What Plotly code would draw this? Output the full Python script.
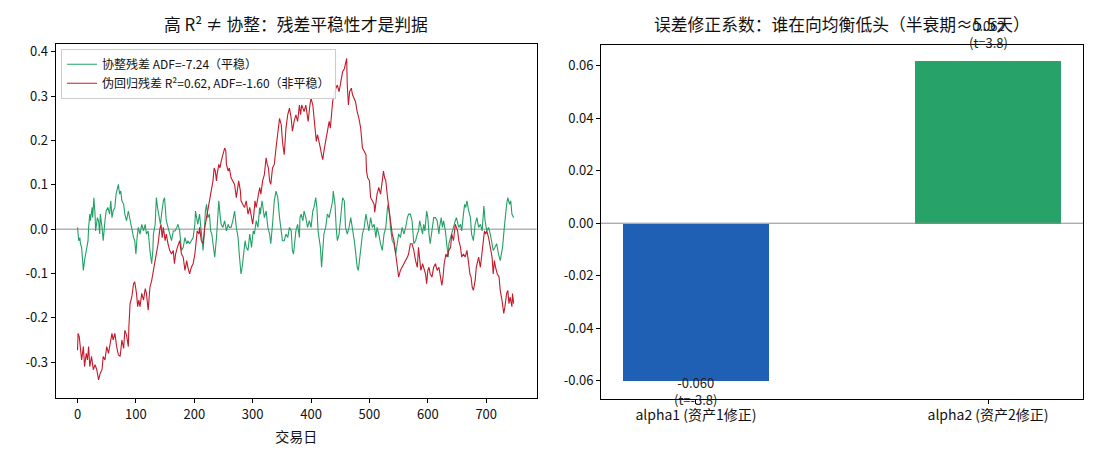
import plotly.graph_objects as go

# ---------------- data: left panel (residual series) ----------------
red_days = [
    0, 1, 3, 5, 7, 10, 12, 15, 17, 19, 21, 24, 27, 30, 33, 36, 39, 42, 44, 47,
    50, 53, 56, 59, 61, 64, 67, 70, 73, 76, 79, 81, 84, 87, 88, 90, 93, 96, 98, 101,
    103, 105, 107, 110, 113, 116, 118, 121, 124, 127, 130, 133, 135, 138, 141, 143, 145, 147, 150, 152,
    155, 158, 161, 164, 166, 168, 171, 174,
    175, 178, 181, 184, 187, 189, 192, 195, 198, 201,
    204, 205, 208, 209, 212, 215, 218, 221, 223, 226,
    229, 232, 234, 236, 238, 239, 242, 244, 246, 249,
    252, 254, 255, 258, 260, 263, 266, 269, 272, 275,
    276, 279, 280, 283, 286, 289, 292, 295, 297, 300,
    302, 304, 306, 309, 312, 314, 317, 320, 323, 325,
    327, 329, 331, 334, 337, 340, 343, 346, 349, 351,
    354, 357, 360, 363, 366, 368, 371, 374, 377, 380,
    382, 384, 386, 388, 391, 393, 395, 398, 400, 403,
    405, 407, 409, 411, 414, 416, 418, 420, 422, 425,
    428, 431, 433, 435, 437, 440, 442, 445, 448, 451,
    454, 457, 459, 461, 462, 464, 466, 469, 471, 474,
    476, 479, 482, 485, 488, 491, 494, 495, 497, 500,
    502, 505, 508, 509, 511, 513, 516, 519, 522, 524,
    526, 528, 531, 533, 536, 539, 542, 545, 548, 550,
    553, 556, 559, 562, 565, 567, 570, 573, 576, 579,
    582, 584,
    586, 588, 591, 593, 596, 598, 600, 602, 604, 607,
    610, 613, 616, 619, 621, 624, 626, 628, 631, 633,
    636, 639, 641, 644, 647, 649, 651, 653, 656, 658,
    661, 664, 667, 670, 672, 674, 676, 678, 681, 683,
    685, 687, 690, 693, 695, 697, 699, 701, 704, 707,
    710, 712, 714, 716, 719, 722, 724, 727, 730, 732,
    735, 737, 739, 741, 744, 745, 747,
]
red_vals = [
    -0.273, -0.235, -0.243, -0.273, -0.295, -0.265, -0.310, -0.280, -0.295, -0.265, -0.310, -0.287, -0.317, -0.306, -0.317, -0.340, -0.325, -0.317, -0.287, -0.295,
    -0.265, -0.280, -0.254, -0.235, -0.250, -0.235, -0.265, -0.284, -0.287, -0.250, -0.269, -0.228, -0.239, -0.265, -0.220, -0.168, -0.153, -0.123, -0.119, -0.145,
    -0.175, -0.160, -0.175, -0.145, -0.160, -0.134, -0.145, -0.183, -0.131, -0.116, -0.093, -0.071, -0.056, -0.033, 0.000, 0.011, -0.019, 0.004, -0.026, -0.011,
    -0.033, -0.048, -0.056, -0.048, -0.078, -0.056, -0.041, -0.030,
    -0.026, -0.056, -0.063, -0.093, -0.071, -0.086, -0.101, -0.086, -0.078, -0.056,
    -0.026, -0.004, -0.011, 0.004, -0.026, -0.033, 0.004, 0.026, 0.049, 0.071,
    0.086, 0.109, 0.138, 0.131, 0.109, 0.123, 0.146, 0.138, 0.153, 0.168,
    0.183, 0.176, 0.146, 0.131, 0.138, 0.116, 0.109, 0.101, 0.071, 0.094,
    0.109, 0.086, 0.064, 0.056, 0.049, 0.064, 0.034, 0.049, 0.034, 0.011,
    0.034, 0.064, 0.049, 0.071, 0.094, 0.079, 0.109, 0.123, 0.161, 0.146,
    0.138, 0.109, 0.101, 0.138, 0.146, 0.183, 0.213, 0.250, 0.235, 0.198,
    0.168, 0.228, 0.258, 0.273, 0.250, 0.221, 0.243, 0.258, 0.243, 0.280,
    0.258, 0.280, 0.273, 0.265, 0.280, 0.258, 0.243, 0.280, 0.295, 0.280,
    0.250, 0.221, 0.198, 0.213, 0.198, 0.183, 0.168, 0.157, 0.176, 0.198,
    0.213, 0.243, 0.228, 0.265, 0.288, 0.310, 0.318, 0.325, 0.310, 0.333,
    0.355, 0.362, 0.377, 0.385, 0.325, 0.280, 0.310, 0.318, 0.303, 0.295,
    0.288, 0.265, 0.250, 0.228, 0.183, 0.176, 0.168, 0.131, 0.116, 0.109,
    0.071, 0.064, 0.056, 0.038, 0.056, 0.079, 0.094, 0.079, 0.109, 0.131,
    0.116, 0.109, 0.071, 0.049, 0.011, -0.011, -0.026, -0.056, -0.086, -0.108,
    -0.093, -0.086, -0.078, -0.071, -0.063, -0.056, -0.033, -0.033, -0.048, -0.071,
    -0.086, -0.041,
    -0.071, -0.093, -0.078, -0.086, -0.101, -0.123, -0.093, -0.086, -0.101, -0.108,
    -0.086, -0.078, -0.093, -0.086, -0.101, -0.127, -0.108, -0.078, -0.056, -0.063,
    -0.048, -0.041, -0.011, -0.026, 0.011, 0.004, -0.004, -0.026, -0.041, -0.063,
    -0.056, -0.063, -0.048, -0.078, -0.101, -0.108, -0.131, -0.138, -0.116, -0.086,
    -0.071, -0.063, -0.086, -0.056, -0.033, -0.004, -0.011, -0.004, -0.019, -0.041,
    -0.063, -0.101, -0.071, -0.086, -0.101, -0.108, -0.138, -0.160, -0.190, -0.175,
    -0.145, -0.138, -0.168, -0.153, -0.175, -0.145, -0.168,
]

green_days = [
    0, 1, 2, 4, 5, 7, 10, 12, 14, 16,
    18, 19, 21, 22, 25, 26, 28, 30, 31, 34,
    36, 38, 39, 42, 44, 47, 49, 52, 55, 57,
    59, 61, 64, 66, 68, 70, 72, 74, 76, 79,
    81, 84, 87, 90, 93, 96, 98, 100, 102, 104,
    107, 110, 113, 116, 118, 121, 124, 127, 129, 130,
    133, 135, 137, 139, 142, 144, 147, 149, 150, 152,
    155, 158, 161, 164, 167, 170, 172, 175,
    178, 181, 184, 187, 189, 192, 195, 198, 201, 202,
    204, 206, 209, 211, 213, 215, 217, 219, 221, 223,
    226, 228, 230, 233, 235, 238, 240, 242, 244, 246,
    249, 252, 255, 258, 260, 263, 266, 269, 272, 275,
    277, 280, 282, 284, 287, 289, 292, 295, 296, 298,
    301, 303, 306, 309, 312, 313, 316, 318, 320, 323,
    326, 329, 331, 334, 337, 340, 343, 346, 349, 351,
    354, 357, 360, 363, 366, 368, 370, 372, 374, 377,
    380,
    381, 383, 386, 388, 391, 394, 397, 400, 403, 405,
    408, 410, 412, 414, 416, 418, 420, 422, 425, 428,
    431, 434, 437, 438, 441, 443, 445, 448, 451, 454,
    457, 459, 462, 465, 468, 471, 474, 476, 479, 481,
    483, 485, 488, 491, 494, 496, 499, 502, 505, 508,
    511, 513, 516, 519, 522, 525, 528, 531, 532, 535,
    536, 539, 542, 545, 548, 550, 553, 556, 559, 562,
    565, 567, 570, 573, 576, 579, 582, 584,
    586, 588, 591, 593, 595, 598, 600, 602, 604, 607,
    610, 613, 616, 619, 620, 623, 625, 627, 630, 633,
    635, 636, 639, 641, 644, 647, 649, 651, 653, 656,
    658, 661, 663, 665, 667, 670, 673, 675, 678, 681,
    684, 687, 690, 693, 695, 696, 698, 701, 704, 707,
    710, 712, 715, 718, 721, 724, 727, 728, 731, 733,
    735, 737, 740, 742, 744, 747,
]
green_vals = [
    0.004, -0.007, -0.026, -0.019, -0.033, -0.041, -0.093, -0.071, -0.056, -0.041,
    -0.026, 0.004, 0.034, 0.019, 0.049, 0.026, 0.071, 0.034, -0.004, 0.026,
    0.019, -0.011, 0.034, 0.004, -0.026, 0.019, 0.041, 0.049, 0.034, 0.064,
    0.026, 0.041, 0.049, 0.079, 0.094, 0.101, 0.079, 0.086, 0.064, 0.056,
    0.034, 0.019, 0.041, 0.019, 0.004, -0.019, -0.026, -0.056, -0.019, 0.004,
    -0.011, 0.011, -0.004, 0.011, -0.011, -0.004, -0.048, -0.078, -0.048, -0.011,
    0.011, 0.071, 0.049, 0.034, 0.011, 0.034, 0.064, 0.071, 0.041, 0.019,
    0.004, -0.011, -0.026, -0.004, -0.004, 0.004, 0.011, -0.004,
    -0.048, -0.041, -0.019, -0.033, -0.026, -0.033, -0.026, -0.019, 0.011, 0.041,
    0.026, 0.011, 0.034, 0.011, -0.011, -0.048, -0.011, 0.041, 0.056, 0.026,
    0.034, -0.004, -0.011, -0.041, -0.063, -0.019, 0.019, 0.064, 0.034, 0.011,
    0.004, 0.019, -0.004, 0.011, 0.004, 0.004, 0.019, 0.041, 0.004, -0.019,
    -0.056, -0.101, -0.086, -0.063, -0.026, -0.041, -0.048, -0.011, -0.026, -0.041,
    -0.004, -0.011, 0.019, 0.004, 0.049, 0.034, 0.064, 0.049, 0.026, 0.041,
    0.004, -0.011, -0.033, 0.011, 0.064, 0.086, 0.071, 0.026, -0.011, -0.026,
    -0.026, -0.011, -0.019, 0.004, -0.004, -0.048, -0.056, -0.026, -0.004, 0.011,
    -0.019,
    0.026, 0.034, 0.019, 0.041, 0.026, 0.004, 0.019, 0.004, 0.041, 0.049,
    0.071, 0.049, -0.004, -0.026, -0.041, -0.086, -0.048, -0.011, 0.004, 0.034,
    0.026, 0.049, 0.064, 0.086, 0.056, 0.004, -0.026, -0.011, 0.034, 0.071,
    0.064, 0.004, -0.011, 0.004, 0.026, 0.004, -0.026, -0.048, -0.086, -0.093,
    -0.071, -0.048, -0.011, 0.004, 0.034, 0.019, -0.004, 0.026, 0.004, 0.011,
    -0.019, 0.004, -0.011, -0.033, -0.048, -0.011, 0.004, 0.049, 0.056, 0.026,
    0.004, -0.026, -0.033, -0.056, -0.026, -0.011, -0.019, 0.004, -0.011, 0.004,
    0.026, 0.034, 0.034, 0.019, -0.033, -0.026, -0.011, -0.004,
    0.019, 0.004, -0.011, 0.011, -0.004, 0.041, 0.026, -0.011, -0.033, -0.004,
    0.026, 0.026, 0.019, -0.011, 0.004, 0.026, 0.004, 0.019, -0.004, -0.041,
    -0.063, -0.033, -0.019, -0.004, 0.004, 0.019, 0.026, 0.011, 0.004, 0.011,
    -0.004, 0.034, 0.056, 0.049, 0.064, 0.041, 0.026, -0.011, -0.026, 0.011,
    0.026, 0.004, 0.011, -0.004, 0.034, 0.052, 0.019, -0.004, 0.004, -0.011,
    -0.033, -0.048, -0.041, -0.033, -0.056, -0.071, -0.048, -0.041, 0.004, 0.041,
    0.056, 0.071, 0.056, 0.064, 0.034, 0.026,
]
assert len(red_days) == len(red_vals), (len(red_days), len(red_vals))
assert len(green_days) == len(green_vals), (len(green_days), len(green_vals))

series_names = ["协整残差 ADF=-7.24（平稳）", "伪回归残差 R²=0.62, ADF=-1.60（非平稳）"]
left_xticks = [0, 100, 200, 300, 400, 500, 600, 700]
left_yticks = [-0.3, -0.2, -0.1, 0.0, 0.1, 0.2, 0.3, 0.4]
left_yticklabels = ["-0.3", "-0.2", "-0.1", "0.0", "0.1", "0.2", "0.3", "0.4"]

# ---------------- data: right panel ----------------
coef_names = ["alpha1 (资产1修正)", "alpha2 (资产2修正)"]
coef_vals = [-0.060, 0.062]
coef_tstats = [-3.8, 3.8]
right_yticks = [-0.06, -0.04, -0.02, 0.0, 0.02, 0.04, 0.06]
right_yticklabels = ["-0.06", "-0.04", "-0.02", "0.00", "0.02", "0.04", "0.06"]

left_title = "高 R² ≠ 协整：残差平稳性才是判据"
right_title = "误差修正系数：谁在向均衡低头（半衰期≈5.5天）"
xlabel_left = "交易日"

# ---------------- styling ----------------
FONT = "Noto Sans CJK SC, Noto Sans, DejaVu Sans, sans-serif"
GREEN = "#23a067"
RED = "#c41a2b"
BAR_COLORS = ["#1f5fb4", "#27a36a"]

fig = go.Figure()

fig.add_trace(go.Scatter(
    x=green_days, y=green_vals, mode="lines", name=series_names[0],
    line=dict(color=GREEN, width=1.1), xaxis="x", yaxis="y",
))
fig.add_trace(go.Scatter(
    x=red_days, y=red_vals, mode="lines", name=series_names[1],
    line=dict(color=RED, width=1.1), xaxis="x", yaxis="y",
))

fig.add_trace(go.Bar(
    x=[0, 1], y=coef_vals, width=0.5, marker=dict(color=BAR_COLORS, line=dict(width=0)),
    showlegend=False, xaxis="x2", yaxis="y2",
))

# bar labels
for i, (v, t) in enumerate(zip(coef_vals, coef_tstats)):
    fig.add_annotation(
        x=i, y=v, xref="x2", yref="y2",
        text=f"{v:.3f}<br>(t={t:.1f})",
        showarrow=False, font=dict(family=FONT, size=13, color="#222"),
        xanchor="center",
        yanchor="top" if v < 0 else "bottom",
        yshift=10 if v < 0 else 6,
    )

# titles
fig.add_annotation(x=0.2693, y=1 - 22 / 462, xref="paper", yref="paper", text=left_title,
                   xanchor="center", yanchor="middle",
                   showarrow=False, font=dict(family=FONT, size=16.8, color="#111"))
fig.add_annotation(x=0.7655, y=1 - 22 / 462, xref="paper", yref="paper", text=right_title,
                   xanchor="center", yanchor="middle",
                   showarrow=False, font=dict(family=FONT, size=16.8, color="#111"))

axis_common = dict(
    showline=True, linecolor="black", linewidth=1, mirror=True,
    ticks="outside", ticklen=4, tickwidth=1, tickcolor="black",
    showgrid=False, zeroline=False,
)
tick13 = dict(family=FONT, size=13, color="#111")
tick14 = dict(family=FONT, size=14, color="#111")

fig.update_layout(
    width=1100, height=462,
    margin=dict(l=0, r=0, t=0, b=0),
    paper_bgcolor="white", plot_bgcolor="white",
    font=dict(family=FONT, size=13, color="#111"),
    xaxis=dict(domain=[0.0506, 0.4879], range=[-37.45, 786.45], anchor="y",
               tickvals=left_xticks, tickfont=tick13,
               title=dict(text=xlabel_left, font=dict(family=FONT, size=14), standoff=10),
               **axis_common),
    yaxis=dict(domain=[0.139, 0.909], range=[-0.381, 0.418], anchor="x",
               tickvals=left_yticks, ticktext=left_yticklabels, tickfont=tick13, **axis_common),
    xaxis2=dict(domain=[0.5464, 0.9845], range=[-0.325, 1.325], anchor="y2",
                tickvals=[0, 1], ticktext=coef_names, tickfont=tick14, **axis_common),
    yaxis2=dict(domain=[0.138, 0.9076], range=[-0.0667, 0.0680], anchor="x2",
                tickvals=right_yticks, ticktext=right_yticklabels, tickfont=tick13, **axis_common),
    legend=dict(x=0.0555, y=1 - 47 / 462, xanchor="left", yanchor="top",
                bgcolor="rgba(255,255,255,0.9)", bordercolor="#cccccc", borderwidth=1,
                font=dict(family=FONT, size=12, color="#111"),
                itemwidth=30, tracegroupgap=0),
    showlegend=True,
    bargap=0,
)

# zero reference lines
fig.add_shape(type="line", xref="x domain", yref="y", x0=0, x1=1, y0=0, y1=0,
              line=dict(color="#8c8c8c", width=1), layer="below")
fig.add_shape(type="line", xref="x2 domain", yref="y2", x0=0, x1=1, y0=0, y1=0,
              line=dict(color="#8c8c8c", width=1), layer="above")

fig.write_html("out.html")
